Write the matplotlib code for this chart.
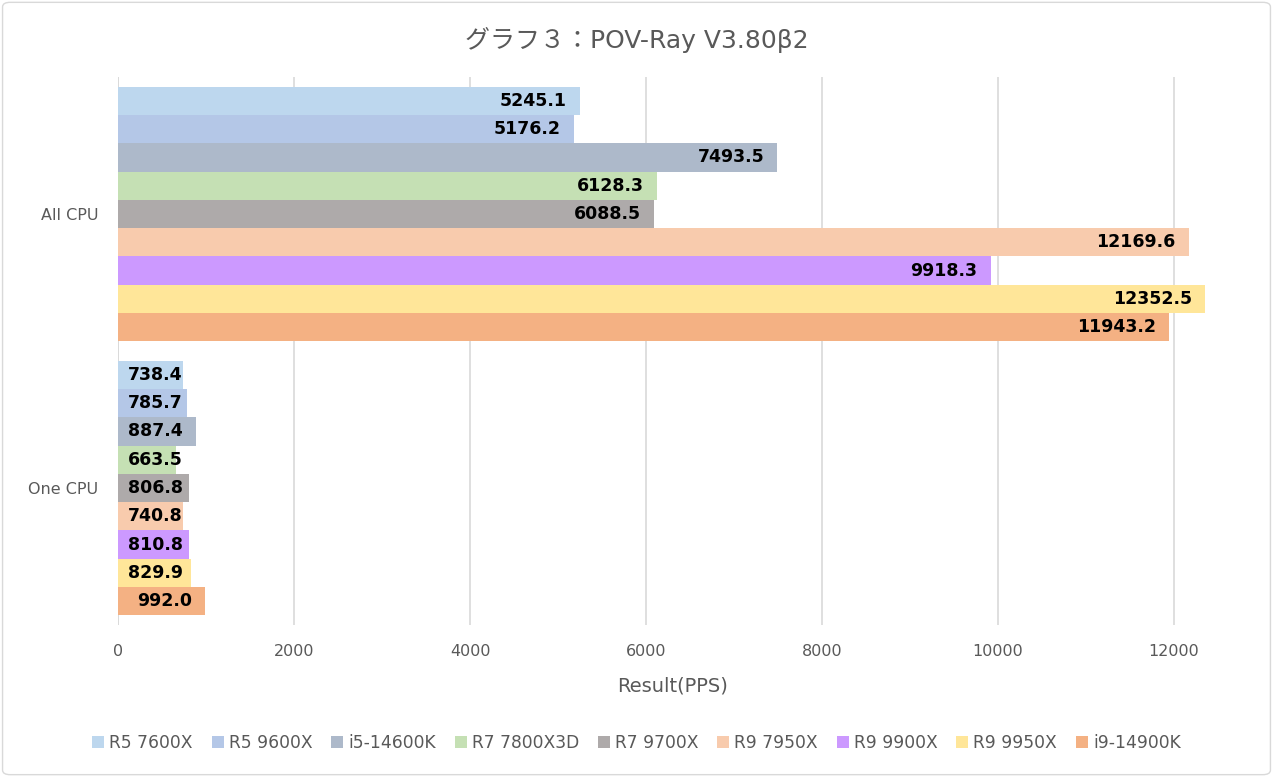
import numpy as np
import matplotlib.pyplot as plt
from matplotlib.patches import FancyBboxPatch

plt.rcParams['font.family'] = ['DejaVu Sans', 'Noto Sans CJK JP']

# datos
categories = ['All CPU', 'One CPU']
cpus = ['R5 7600X', 'R5 9600X', 'i5-14600K', 'R7 7800X3D', 'R7 9700X',
        'R9 7950X', 'R9 9900X', 'R9 9950X', 'i9-14900K']
all_cpu = [5245.1, 5176.2, 7493.5, 6128.3, 6088.5, 12169.6, 9918.3, 12352.5, 11943.2]
one_cpu = [738.4, 785.7, 887.4, 663.5, 806.8, 740.8, 810.8, 829.9, 992.0]
colors = ['#BDD7EE', '#B4C7E7', '#ADB9CA', '#C5E0B4', '#AEAAAA',
          '#F8CBAD', '#CC99FF', '#FFE699', '#F4B183']
xticks = [0, 2000, 4000, 6000, 8000, 10000, 12000]

gris = '#595959'

fig = plt.figure(figsize=(12.73, 7.77), dpi=100)
ax = fig.add_axes([0.0927, 0.1956, 0.871, 0.7053])

n = len(cpus)
h = 0.93 / n
centros = np.arange(len(categories))
vals = np.array([all_cpu, one_cpu])
etiquetas = []
for i in range(n):
    y = centros - 0.93 / 2 + h * (i + 0.5)
    bars = ax.barh(y, vals[:, i], height=h, color=colors[i], label=cpus[i], zorder=2)
    for b, v in zip(bars, vals[:, i]):
        t = ax.annotate('{:.1f}'.format(v), (v, b.get_y() + b.get_height() / 2),
                        xytext=(-9.5, 0), textcoords='offset points',
                        ha='right', va='center', fontsize=12.5, fontweight='bold',
                        color='black', zorder=3)
        etiquetas.append(t)

ax.set_ylim(1.5, -0.5)
ax.set_xlim(0, 12600)
ax.set_xticks(xticks)
ax.set_xticklabels([str(t) for t in xticks], color=gris, fontsize=11.5)
ax.set_yticks(centros)
ax.set_yticklabels(categories, color=gris, fontsize=11.5)
ax.tick_params(length=0, pad=14)
ax.tick_params(axis='y', pad=14)
ax.grid(axis='x', color='#D9D9D9', linewidth=1.2, zorder=0)
for s in ax.spines.values():
    s.set_visible(False)
ax.axvline(0, color='#D9D9D9', linewidth=1.2, zorder=1)

ax.set_xlabel('Result(PPS)', color=gris, fontsize=14, labelpad=12)
fig.text(0.5, 0.948, 'グラフ３：POV-Ray V3.80β2', ha='center', va='center',
         color=gris, fontsize=18)

fig.legend(loc='center', bbox_to_anchor=(0.5, 0.044), ncol=9, frameon=False,
           fontsize=12.3, handlelength=0.7, handleheight=0.7, handletextpad=0.3,
           columnspacing=1.1, labelcolor=gris)

# las etiquetas no deben salirse por la izquierda del eje
fig.canvas.draw()
r = fig.canvas.get_renderer()
x_min = ax.transData.transform((0, 0))[0] + 10
for t in etiquetas:
    bb = t.get_window_extent(r)
    if bb.x0 < x_min:
        dx = (x_min - bb.x0) * 72 / fig.dpi
        xo, yo = t.xyann
        t.xyann = (xo + dx, yo)

borde = FancyBboxPatch((0.002, 0.003), 0.996, 0.994, boxstyle='round,pad=0,rounding_size=0.006',
                       transform=fig.transFigure, fill=False, edgecolor='#D9D9D9', linewidth=1)
fig.patches.append(borde)

fig.savefig('out.png', dpi=100)
